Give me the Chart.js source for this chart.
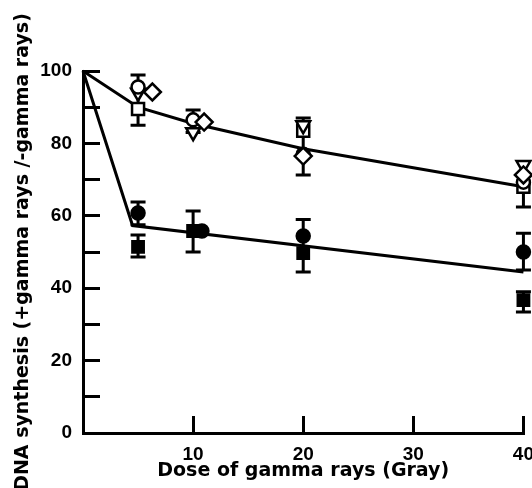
<!DOCTYPE html>
<html lang="en">
<head>
    <meta charset="UTF-8">
    <title>DNA synthesis vs gamma dose</title>
    <style>
        html, body {
            margin: 0;
            padding: 0;
            background: #fff;
            overflow: hidden;
        }
        #wrap {
            position: absolute;
            left: 0;
            top: 0;
        }
    </style>
</head>
<body>

<div id="wrap">
    <canvas id="myChart" width="561" height="488"></canvas>
</div>

<script src="https://cdn.jsdelivr.net/npm/chart.js@4.4.1/dist/chart.umd.min.js"></script>
<script>
    // fitted curves
    var openFitX = [0, 5, 10, 20, 40];
    var openFitY = [100, 90, 85.5, 78.5, 68];
    var filledFitX = [0, 4.5, 40];
    var filledFitY = [100, 57.3, 44.5];

    // open symbols
    var openCircleX = [5, 10, 20, 40];
    var openCircleY = [95.6, 86.5, 77, 69.3];
    var openTriangleX = [5, 10, 20, 40];
    var openTriangleY = [94, 83.1, 85, 74];
    var openSquareX = [5, 20, 40];
    var openSquareY = [89.5, 83.5, 68];
    var openDiamondX = [6.3, 11, 20, 40];
    var openDiamondY = [94.2, 85.9, 76.5, 71.3];

    // filled symbols
    var filledCircleX = [5, 10.8, 20, 40];
    var filledCircleY = [60.8, 55.8, 54.4, 50];
    var filledSquareX = [5, 10, 20, 40];
    var filledSquareY = [51.4, 55.8, 49.7, 36.7];

    // error bars
    var errX = [5, 10, 20, 40, 5, 5, 10, 20, 40, 40];
    var errLow = [85, 83, 71.3, 62.4, 57.5, 48.6, 50, 44.5, 45, 33.4];
    var errHigh = [98.9, 89.2, 87, 69.3, 63.8, 54.7, 61.3, 59, 55.2, 39];

    var xTicks = [10, 20, 30, 40];
    var yTicks = [0, 20, 40, 60, 80, 100];

    function pts(xs, ys) {
        return xs.map(function(v, i) { return { x: v, y: ys[i] }; });
    }

    function marker(xs, ys, style, filled, radius, rotation) {
        return {
            data: pts(xs, ys),
            showLine: false,
            clip: false,
            pointStyle: style,
            pointRadius: radius,
            pointRotation: rotation || 0,
            pointBorderWidth: 2.5,
            pointBorderColor: '#000',
            pointBackgroundColor: filled ? '#000' : '#fff'
        };
    }

    function fitLine(xs, ys) {
        return {
            data: pts(xs, ys),
            showLine: true,
            clip: false,
            borderColor: '#000',
            borderWidth: 3,
            pointRadius: 0,
            tension: 0
        };
    }

    var errorBars = {
        id: 'errorBars',
        beforeDatasetsDraw: function(chart) {
            var ctx = chart.ctx;
            var x = chart.scales.x, y = chart.scales.y;
            ctx.save();
            ctx.strokeStyle = '#000';
            ctx.lineWidth = 3;
            errX.forEach(function(d, i) {
                var px = x.getPixelForValue(d);
                var lo = y.getPixelForValue(errLow[i]);
                var hi = y.getPixelForValue(errHigh[i]);
                ctx.beginPath();
                ctx.moveTo(px, lo); ctx.lineTo(px, hi);
                ctx.moveTo(px - 7.5, lo); ctx.lineTo(px + 7.5, lo);
                ctx.moveTo(px - 7.5, hi); ctx.lineTo(px + 7.5, hi);
                ctx.stroke();
            });
            ctx.restore();
        }
    };

    var tickFont = { family: 'Liberation Sans', size: 19, weight: 'bold' };
    var titleFont = { family: 'DejaVu Sans', size: 19, weight: 'bold' };

    new Chart(document.getElementById('myChart'), {
        type: 'scatter',
        data: {
            datasets: [
                marker(openDiamondX, openDiamondY, 'rectRot', false, 8.5),
                marker(openCircleX, openCircleY, 'circle', false, 6.5),
                marker(openTriangleX, openTriangleY, 'triangle', false, 8, 180),
                marker(openSquareX, openSquareY, 'rect', false, 8.5),
                marker(filledCircleX, filledCircleY, 'circle', true, 6.5),
                marker(filledSquareX, filledSquareY, 'rect', true, 8),
                fitLine(openFitX, openFitY),
                fitLine(filledFitX, filledFitY)
            ]
        },
        options: {
            responsive: false,
            devicePixelRatio: 1,
            animation: false,
            layout: { padding: { top: 71, right: 22, left: 0, bottom: 0 } },
            plugins: {
                legend: { display: false },
                tooltip: { enabled: false }
            },
            scales: {
                x: {
                    type: 'linear',
                    min: 0,
                    max: 40,
                    afterFit: function(s) { s.height = 55; },
                    afterBuildTicks: function(s) {
                        s.ticks = [0].concat(xTicks).map(function(v) { return { value: v }; });
                    },
                    ticks: {
                        color: '#000',
                        font: tickFont,
                        padding: 27,
                        maxRotation: 0,
                        callback: function(v) { return v === 0 ? '' : v; }
                    },
                    grid: {
                        display: true,
                        drawOnChartArea: false,
                        drawTicks: true,
                        tickLength: -17,
                        tickWidth: 3,
                        tickColor: '#000'
                    },
                    border: { display: true, width: 3, color: '#000' },
                    title: {
                        display: true,
                        text: 'Dose of gamma rays (Gray)',
                        color: '#000',
                        font: titleFont,
                        padding: { top: 0, bottom: 6 }
                    }
                },
                y: {
                    type: 'linear',
                    min: 0,
                    max: 100,
                    afterFit: function(s) { s.width = 83; },
                    ticks: {
                        stepSize: 10,
                        color: '#000',
                        font: tickFont,
                        padding: 28,
                        callback: function(v) { return yTicks.indexOf(v) >= 0 ? v : ''; }
                    },
                    grid: {
                        display: true,
                        drawOnChartArea: false,
                        drawTicks: true,
                        tickLength: -17,
                        tickWidth: 3,
                        tickColor: '#000'
                    },
                    border: { display: true, width: 3, color: '#000' },
                    title: {
                        display: true,
                        text: 'DNA synthesis (+gamma rays /-gamma rays)',
                        color: '#000',
                        font: titleFont,
                        padding: { top: 12, bottom: 0 }
                    }
                }
            }
        },
        plugins: [errorBars]
    });
</script>

</body>
</html>
